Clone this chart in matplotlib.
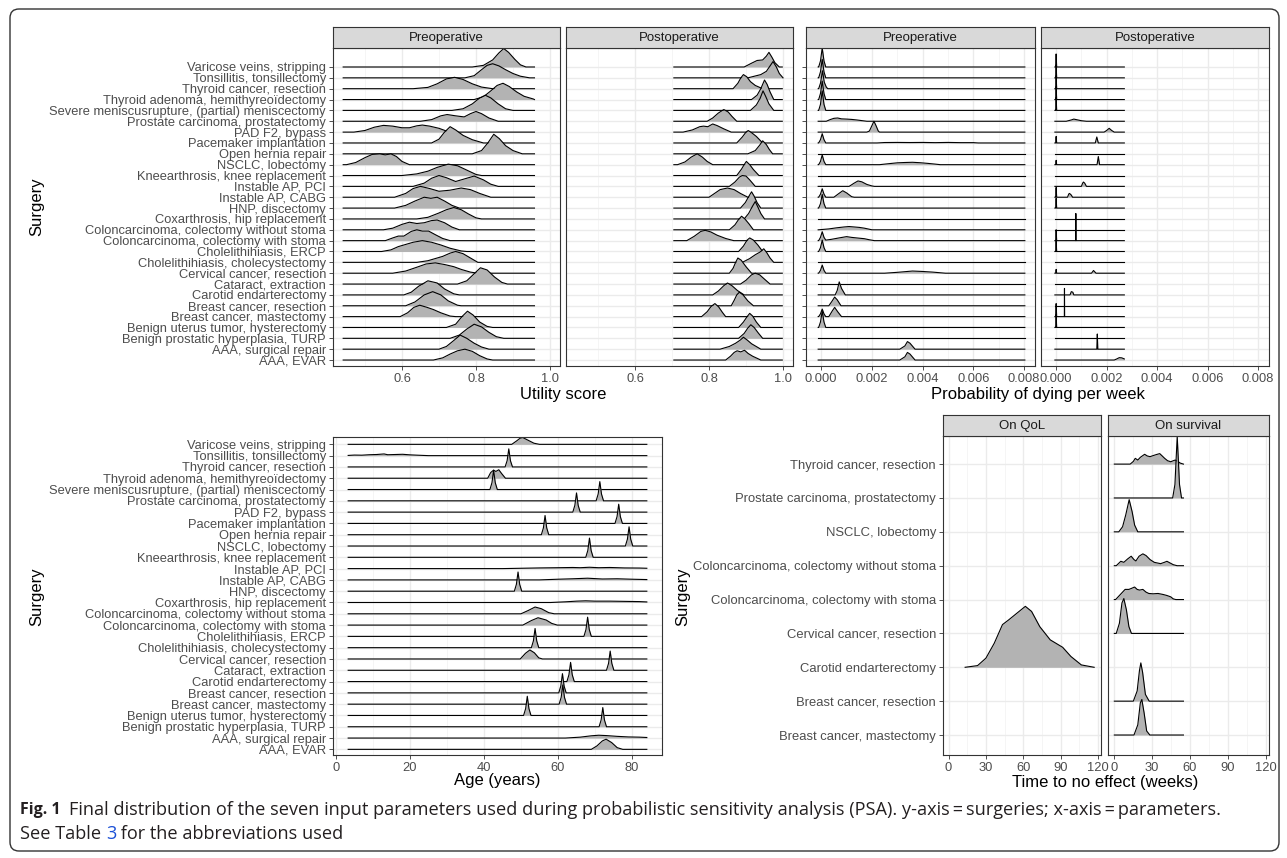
import matplotlib
matplotlib.use("Agg")
import matplotlib.pyplot as plt
from matplotlib.patches import FancyBboxPatch

W, H = 1287, 858
plt.rcParams['font.family'] = ['Liberation Sans', 'DejaVu Sans']

# surgeries, listed top to bottom as they appear
surgeries = [
    "Varicose veins, stripping", "Tonsillitis, tonsillectomy", "Thyroid cancer, resection",
    "Thyroid adenoma, hemithyreoïdectomy", "Severe meniscusrupture, (partial) meniscectomy",
    "Prostate carcinoma, prostatectomy", "PAD F2, bypass", "Pacemaker implantation",
    "Open hernia repair", "NSCLC, lobectomy", "Kneearthrosis, knee replacement",
    "Instable AP, PCI", "Instable AP, CABG", "HNP, discectomy", "Coxarthrosis, hip replacement",
    "Coloncarcinoma, colectomy without stoma", "Coloncarcinoma, colectomy with stoma",
    "Cholelithihiasis, ERCP", "Cholelithihiasis, cholecystectomy", "Cervical cancer, resection",
    "Cataract, extraction", "Carotid endarterectomy", "Breast cancer, resection",
    "Breast cancer, mastectomy", "Benign uterus tumor, hysterectomy",
    "Benign prostatic hyperplasia, TURP", "AAA, surgical repair", "AAA, EVAR",
]

# ridge outlines: (x value, height in rows)
util_pre = [
    [(0.79,0),(0.82,0.15),(0.845,0.65),(0.862,1.3),(0.875,1.7),(0.888,1.35),(0.905,0.7),(0.92,0.2),(0.935,0)],
    [(0.77,0),(0.795,0.2),(0.815,0.75),(0.83,1.15),(0.845,1.3),(0.862,1.1),(0.88,0.75),(0.9,0.4),(0.92,0.15),(0.945,0)],
    [(0.63,0),(0.67,0.12),(0.695,0.45),(0.72,0.9),(0.742,1.05),(0.765,0.85),(0.79,0.45),(0.815,0.15),(0.845,0)],
    [(0.795,0),(0.82,0.25),(0.84,0.8),(0.857,1.3),(0.873,1.5),(0.89,1.2),(0.91,0.7),(0.93,0.3),(0.955,0.05)],
    [(0.735,0),(0.765,0.15),(0.79,0.6),(0.81,1.15),(0.825,1.4),(0.84,1.15),(0.86,0.6),(0.88,0.15),(0.9,0)],
    [(0.65,0),(0.68,0.15),(0.705,0.5),(0.722,0.62),(0.745,0.5),(0.768,0.4),(0.785,0.7),(0.8,0.9),(0.815,0.7),(0.835,0.3),(0.86,0)],
    [(0.47,0),(0.5,0.15),(0.525,0.45),(0.55,0.62),(0.575,0.55),(0.6,0.4),(0.62,0.4),(0.64,0.58),(0.655,0.65),(0.675,0.55),(0.7,0.35),(0.72,0.1),(0.735,0)],
    [(0.68,0),(0.7,0.35),(0.715,1.0),(0.73,1.5),(0.745,1.2),(0.765,0.7),(0.79,0.3),(0.82,0)],
    [(0.79,0),(0.815,0.3),(0.832,1.0),(0.848,1.8),(0.863,1.4),(0.88,0.75),(0.9,0.3),(0.925,0)],
    [(0.45,0),(0.475,0.2),(0.5,0.65),(0.52,0.95),(0.54,1.0),(0.555,0.9),(0.57,1.0),(0.585,0.75),(0.6,0.3),(0.62,0)],
    [(0.6,0),(0.64,0.15),(0.67,0.4),(0.695,0.75),(0.725,1.05),(0.75,0.9),(0.775,0.5),(0.8,0.1),(0.815,0)],
    [(0.63,0),(0.66,0.3),(0.68,0.75),(0.7,1.0),(0.72,0.8),(0.745,0.45),(0.77,0.7),(0.795,0.95),(0.82,0.6),(0.84,0.2),(0.86,0)],
    [(0.58,0),(0.61,0.35),(0.63,0.8),(0.65,1.0),(0.675,0.8),(0.7,0.55),(0.73,0.65),(0.76,0.85),(0.785,0.7),(0.81,0.35),(0.84,0)],
    [(0.58,0),(0.61,0.25),(0.635,0.65),(0.66,1.0),(0.678,0.9),(0.695,1.0),(0.715,0.65),(0.735,0.25),(0.755,0)],
    [(0.64,0),(0.67,0.15),(0.7,0.55),(0.72,0.85),(0.74,1.05),(0.76,0.85),(0.78,0.45),(0.8,0.1),(0.815,0)],
    [(0.55,0),(0.575,0.15),(0.6,0.5),(0.62,0.7),(0.64,0.58),(0.66,0.65),(0.68,0.85),(0.695,0.9),(0.715,0.65),(0.735,0.25),(0.755,0)],
    [(0.555,0),(0.575,0.25),(0.59,0.42),(0.605,0.42),(0.625,0.85),(0.64,1.0),(0.655,0.88),(0.672,0.88),(0.69,0.55),(0.71,0.2),(0.73,0)],
    [(0.545,0),(0.57,0.15),(0.59,0.45),(0.61,0.65),(0.63,0.85),(0.655,1.0),(0.68,0.85),(0.705,0.6),(0.73,0.3),(0.76,0.05),(0.775,0)],
    [(0.64,0),(0.67,0.15),(0.69,0.35),(0.71,0.55),(0.73,0.85),(0.745,1.0),(0.765,0.8),(0.785,0.4),(0.805,0)],
    [(0.575,0),(0.61,0.2),(0.64,0.55),(0.665,0.85),(0.69,0.95),(0.715,0.8),(0.74,0.6),(0.76,0.35),(0.785,0.1),(0.805,0)],
    [(0.75,0),(0.775,0.3),(0.795,0.95),(0.812,1.5),(0.83,1.3),(0.85,0.65),(0.87,0.15),(0.885,0)],
    [(0.605,0),(0.625,0.25),(0.645,0.8),(0.67,1.3),(0.695,1.1),(0.715,0.55),(0.74,0.1),(0.755,0)],
    [(0.61,0),(0.635,0.35),(0.66,1.0),(0.683,1.3),(0.705,1.0),(0.725,0.45),(0.75,0.05),(0.76,0)],
    [(0.595,0),(0.615,0.35),(0.632,0.85),(0.648,1.05),(0.668,0.85),(0.685,0.65),(0.705,0.35),(0.73,0.05),(0.745,0)],
    [(0.72,0),(0.745,0.3),(0.762,1.0),(0.777,1.5),(0.792,1.15),(0.81,0.5),(0.83,0.1),(0.845,0)],
    [(0.73,0),(0.755,0.3),(0.775,0.85),(0.795,1.3),(0.815,1.05),(0.835,0.55),(0.855,0.15),(0.875,0)],
    [(0.7,0),(0.72,0.25),(0.74,0.8),(0.757,1.3),(0.775,1.0),(0.795,0.55),(0.815,0.2),(0.835,0)],
    [(0.685,0),(0.71,0.2),(0.73,0.55),(0.75,0.85),(0.77,1.0),(0.79,0.8),(0.81,0.4),(0.83,0.1),(0.845,0)],
]

util_post = [
    [(0.895,0),(0.915,0.35),(0.93,0.6),(0.945,0.65),(0.955,1.0),(0.962,1.35),(0.97,0.9),(0.978,0.4),(0.99,0)],
    [(0.905,0),(0.94,0.3),(0.955,0.6),(0.965,1.1),(0.973,1.5),(0.982,1.0),(0.99,0.4),(1.0,0)],
    [(0.865,0),(0.878,0.5),(0.886,1.0),(0.893,1.3),(0.902,1.1),(0.912,0.65),(0.925,0.3),(0.945,0)],
    [(0.915,0),(0.93,0.4),(0.94,1.0),(0.95,1.8),(0.957,1.4),(0.965,0.7),(0.975,0)],
    [(0.912,0),(0.928,0.5),(0.938,1.1),(0.946,1.8),(0.953,1.3),(0.962,0.6),(0.975,0)],
    [(0.795,0),(0.81,0.3),(0.825,0.75),(0.84,1.08),(0.852,0.85),(0.862,0.45),(0.875,0)],
    [(0.73,0),(0.755,0.2),(0.775,0.5),(0.785,0.55),(0.797,0.5),(0.81,0.75),(0.822,0.6),(0.84,0.3),(0.86,0)],
    [(0.875,0),(0.89,0.55),(0.9,1.0),(0.906,1.15),(0.915,0.95),(0.928,0.6),(0.945,0)],
    [(0.905,0),(0.925,0.3),(0.937,0.8),(0.945,1.2),(0.955,0.85),(0.963,0.4),(0.972,0)],
    [(0.715,0),(0.735,0.25),(0.752,0.7),(0.768,1.0),(0.782,0.7),(0.795,0.3),(0.81,0)],
    [(0.875,0),(0.888,0.6),(0.895,1.0),(0.901,1.3),(0.91,1.0),(0.92,0.55),(0.935,0)],
    [(0.855,0),(0.87,0.4),(0.882,0.85),(0.89,1.0),(0.9,0.95),(0.91,0.6),(0.925,0)],
    [(0.8,0),(0.815,0.35),(0.83,0.7),(0.85,0.85),(0.868,0.7),(0.885,0.35),(0.905,0)],
    [(0.885,0),(0.898,0.5),(0.908,1.1),(0.915,1.5),(0.922,1.1),(0.93,0.5),(0.94,0)],
    [(0.895,0),(0.907,0.5),(0.918,1.2),(0.925,1.6),(0.932,1.1),(0.94,0.5),(0.95,0)],
    [(0.855,0),(0.87,0.45),(0.88,0.95),(0.888,1.25),(0.897,1.0),(0.908,0.55),(0.92,0)],
    [(0.74,0),(0.76,0.4),(0.778,0.85),(0.79,0.95),(0.805,0.8),(0.822,0.5),(0.845,0.2),(0.867,0)],
    [(0.88,0),(0.893,0.5),(0.903,1.05),(0.91,1.25),(0.92,1.05),(0.932,0.6),(0.945,0)],
    [(0.89,0),(0.91,0.35),(0.925,0.7),(0.938,0.95),(0.948,1.25),(0.956,0.9),(0.965,0.4),(0.975,0)],
    [(0.855,0),(0.865,0.45),(0.872,1.0),(0.878,1.4),(0.887,1.2),(0.9,0.6),(0.915,0)],
    [(0.885,0),(0.9,0.35),(0.915,0.85),(0.925,1.0),(0.937,0.85),(0.95,0.45),(0.965,0)],
    [(0.81,0),(0.825,0.35),(0.84,0.85),(0.85,1.1),(0.862,0.85),(0.877,0.4),(0.895,0)],
    [(0.86,0),(0.868,0.5),(0.875,1.0),(0.882,1.25),(0.892,1.0),(0.905,0.45),(0.92,0)],
    [(0.78,0),(0.795,0.45),(0.806,0.95),(0.816,1.2),(0.826,0.9),(0.836,0.4),(0.845,0)],
    [(0.88,0),(0.893,0.5),(0.903,1.0),(0.91,1.3),(0.918,1.05),(0.928,0.5),(0.94,0)],
    [(0.88,0),(0.895,0.45),(0.905,0.95),(0.913,1.25),(0.922,1.0),(0.933,0.5),(0.945,0)],
    [(0.83,0),(0.855,0.25),(0.872,0.55),(0.885,0.85),(0.893,1.1),(0.903,0.85),(0.915,0.5),(0.94,0)],
    [(0.845,0),(0.858,0.35),(0.868,0.7),(0.876,0.85),(0.886,0.75),(0.896,0.9),(0.906,0.6),(0.918,0.35),(0.94,0)],
]

prob_pre = [
    [(-0.0001,0),(-0.00003,0.55),(0.00004,1.75),(0.00011,0.55),(0.00018,0)],
    [(-0.0001,0),(-0.00003,0.55),(0.00004,1.7),(0.00011,0.55),(0.00018,0)],
    [(-0.0001,0),(-0.00003,0.5),(0.00005,1.65),(0.00012,0.6),(0.0002,0.15),(0.00026,0)],
    [(-0.0001,0),(-0.00003,0.55),(0.00004,1.7),(0.00011,0.55),(0.00018,0)],
    [(-0.0001,0),(-0.00003,0.55),(0.00004,1.8),(0.00011,0.55),(0.00018,0)],
    [(0.0002,0),(0.00035,0.15),(0.0005,0.27),(0.00065,0.3),(0.0008,0.22),(0.001,0.2),(0.0012,0.17),(0.0014,0.12),(0.0016,0.06),(0.0018,0)],
    [(0.0018,0),(0.0019,0.1),(0.002,0.6),(0.00208,1.0),(0.00216,0.6),(0.00225,0.1),(0.0023,0)],
    [(-0.0001,0),(-0.00003,0.3),(0.00004,0.85),(0.00011,0.3),(0.00018,0),(0.0022,0),(0.0025,0.04),(0.003,0.05),(0.0035,0.04),(0.004,0.05),(0.0045,0.03),(0.005,0.05),(0.0055,0.03),(0.006,0.03),(0.0062,0)],
    [],
    [(-0.0001,0),(-0.00003,0.3),(0.00004,0.9),(0.00011,0.3),(0.00018,0),(0.0023,0),(0.0027,0.1),(0.003,0.17),(0.0033,0.2),(0.0036,0.22),(0.0039,0.18),(0.0042,0.12),(0.0045,0.05),(0.0047,0)],
    [],
    [(0.0011,0),(0.0013,0.3),(0.00145,0.5),(0.0016,0.42),(0.0018,0.18),(0.002,0.04),(0.0021,0)],
    [(-0.0001,0),(-0.00003,0.28),(0.00004,0.78),(0.00011,0.28),(0.00018,0),(0.0005,0),(0.0007,0.35),(0.00085,0.6),(0.001,0.4),(0.0012,0.05),(0.0013,0)],
    [(-0.0001,0),(-0.00003,0.4),(0.00004,1.25),(0.00011,0.4),(0.00018,0)],
    [],
    [(-0.0001,0),(0.0003,0.08),(0.0006,0.18),(0.0009,0.26),(0.0011,0.3),(0.0013,0.26),(0.0015,0.22),(0.0017,0.15),(0.0019,0.05),(0.002,0)],
    [(-0.0001,0),(-0.00003,0.3),(0.00004,0.82),(0.00011,0.3),(0.00018,0.05),(0.0004,0.12),(0.0007,0.25),(0.001,0.37),(0.0012,0.3),(0.0014,0.25),(0.0017,0.18),(0.0019,0.08),(0.0021,0)],
    [(-0.0001,0),(-0.00003,0.35),(0.00004,1.05),(0.00011,0.35),(0.00018,0)],
    [],
    [(-0.0001,0),(-0.00003,0.26),(0.00004,0.75),(0.00011,0.26),(0.00018,0),(0.0025,0),(0.003,0.08),(0.0033,0.14),(0.0036,0.2),(0.004,0.16),(0.0044,0.1),(0.0049,0)],
    [],
    [(0.00055,0),(0.00063,0.4),(0.00071,1.2),(0.0008,0.6),(0.00095,0)],
    [(0.0003,0),(0.00042,0.4),(0.00053,0.8),(0.00063,0.55),(0.00078,0)],
    [(-0.0001,0),(-0.00003,0.25),(0.00004,0.7),(0.00011,0.25),(0.00018,0),(0.0003,0),(0.00043,0.5),(0.00053,0.85),(0.00065,0.45),(0.0008,0)],
    [(-0.0001,0),(-0.00003,0.5),(0.00004,1.5),(0.00011,0.5),(0.00018,0)],
    [],
    [(0.0031,0),(0.0033,0.3),(0.0034,0.7),(0.0035,0.55),(0.0037,0)],
    [(0.0031,0),(0.0033,0.3),(0.0034,0.7),(0.0035,0.55),(0.0037,0)],
]

prob_post = [
    [(-0.00002,0),(0.0,1.2),(0.00002,0)],
    [(-0.00002,0),(0.0,1.2),(0.00002,0)],
    [(-0.00002,0),(0.0,1.2),(0.00002,0)],
    [(-0.00002,0),(0.0,1.2),(0.00002,0)],
    [(-0.00002,0),(0.0,1.2),(0.00002,0)],
    [(0.0004,0),(0.0006,0.12),(0.0007,0.2),(0.0008,0.15),(0.001,0.05),(0.0012,0)],
    [(0.0019,0),(0.002,0.15),(0.0021,0.35),(0.0022,0.15),(0.0023,0)],
    [(-0.00002,0),(0.0,0.6),(0.00002,0),(0.00155,0),(0.00161,0.55),(0.00167,0)],
    [],
    [(-0.00002,0),(0.0,0.4),(0.00002,0),(0.00162,0),(0.00167,0.75),(0.00172,0)],
    [],
    [(0.001,0),(0.00105,0.3),(0.00108,0.4),(0.00113,0.3),(0.0012,0)],
    [(-0.00002,0),(0.0,0.9),(0.00002,0),(0.00045,0),(0.0005,0.3),(0.00053,0.35),(0.0006,0.2),(0.00065,0)],
    [(-0.00002,0),(0.0,0.9),(0.00002,0)],
    [],
    [],
    [(-0.00002,0),(0.0,1.0),(0.00002,0),(0.000775,0),(0.00078,2.5),(0.000785,0)],
    [(-0.00002,0),(0.0,1.0),(0.00002,0)],
    [],
    [(-0.00002,0),(0.0,0.35),(0.00002,0),(0.0014,0),(0.00148,0.25),(0.00158,0)],
    [],
    [(0.00055,0),(0.0006,0.3),(0.00066,0.25),(0.0007,0)],
    [],
    [(-0.00002,0),(0.0,1.2),(0.00002,0),(0.000325,0),(0.00033,2.6),(0.000335,0)],
    [(-0.00002,0),(0.0,1.2),(0.00002,0)],
    [],
    [(0.00161,0),(0.00163,1.4),(0.00165,0)],
    [(0.0023,0),(0.0024,0.1),(0.0025,0.22),(0.0026,0.2),(0.0027,0.1)],
]

age = [
    [(47.5,0),(48.8,0.3),(49.8,0.55),(50.5,0.6),(52,0.35),(53.5,0.1),(55,0)],
    [(3.3,0.02),(5,0.05),(7,0.04),(9,0.08),(11,0.1),(13,0.15),(14,0.08),(16,0.1),(18,0.12),(20,0.07),(22,0.04),(25,0)],
    [(45.7,0),(46.25,0.55),(46.7,1.6),(47.15,0.55),(47.7,0)],
    [(41,0),(41.8,0.5),(42.6,0.72),(43.2,0.6),(44,0.75),(44.8,0.4),(45.8,0)],
    [(41.6,0),(42.15,0.6),(42.6,1.7),(43.05,0.6),(43.6,0)],
    [(70.3,0),(70.85,0.6),(71.3,1.7),(71.75,0.6),(72.3,0)],
    [(64.0,0),(64.55,0.6),(65.0,1.7),(65.45,0.6),(66.0,0)],
    [(75.4,0),(75.95,0.6),(76.4,1.7),(76.85,0.6),(77.4,0)],
    [(55.5,0),(56.05,0.6),(56.5,1.7),(56.95,0.6),(57.5,0)],
    [(78.2,0),(78.75,0.6),(79.2,1.7),(79.65,0.6),(80.2,0)],
    [(67.5,0),(68.05,0.6),(68.5,1.7),(68.95,0.6),(69.5,0)],
    [(45,0),(50,0.03),(55,0.06),(60,0.08),(64,0.1),(66,0.08),(68.5,0.12),(71,0.08),(74,0.1),(78,0.06),(82,0.05),(84,0.03)],
    [(55,0),(60,0.06),(64,0.1),(68,0.15),(72,0.08),(76,0.1),(80,0.06),(84,0.03)],
    [(48.2,0),(48.75,0.6),(49.2,1.7),(49.65,0.6),(50.2,0)],
    [(58,0),(62,0.06),(65,0.12),(67.5,0.15),(70,0.12),(74,0.12),(78,0.1),(82,0.08),(84,0.05)],
    [(50,0),(52,0.3),(53.8,0.6),(55.5,0.45),(57.5,0.1),(59,0)],
    [(50.5,0),(52.8,0.4),(54.6,0.65),(56.8,0.45),(58.3,0.15),(59.8,0)],
    [(67.0,0),(67.55,0.6),(68.0,1.7),(68.45,0.6),(69.0,0)],
    [(52.8,0),(53.35,0.6),(53.8,1.7),(54.25,0.6),(54.8,0)],
    [(49.8,0),(51.2,0.5),(52.4,0.8),(53.6,0.55),(54.8,0.1),(55.8,0)],
    [(73.1,0),(73.65,0.6),(74.1,1.7),(74.55,0.6),(75.1,0)],
    [(62.4,0),(62.95,0.6),(63.4,1.7),(63.85,0.6),(64.4,0)],
    [(60.2,0),(60.75,0.6),(61.2,1.7),(61.65,0.6),(62.2,0)],
    [(60.3,0),(60.85,0.6),(61.3,1.7),(61.75,0.6),(62.3,0)],
    [(50.7,0),(51.25,0.6),(51.7,1.7),(52.15,0.6),(52.7,0)],
    [(71.1,0),(71.65,0.6),(72.1,1.7),(72.55,0.6),(73.1,0)],
    [(62,0),(66,0.08),(69,0.2),(71,0.25),(73,0.22),(76,0.15),(79,0.1),(82,0.08),(84,0.05)],
    [(69,0),(70.5,0.3),(72,0.75),(73,0.9),(74.5,0.6),(76,0.15),(77.5,0)],
]

# time to no effect, top to bottom
tte_surgeries = [
    "Thyroid cancer, resection", "Prostate carcinoma, prostatectomy", "NSCLC, lobectomy",
    "Coloncarcinoma, colectomy without stoma", "Coloncarcinoma, colectomy with stoma",
    "Cervical cancer, resection", "Carotid endarterectomy", "Breast cancer, resection",
    "Breast cancer, mastectomy",
]
tte_qol = [None, None, None, None, None, None,
           [(13.3,0),(23.3,0.05),(30,0.27),(36.7,0.71),(43.3,1.26),(48.3,1.4),(55,1.6),(61.7,1.8),
            (66.7,1.65),(73.3,1.2),(81.7,0.81),(91.7,0.59),(98.3,0.32),(106.7,0.07),(117,0)],
           None, None]
tte_surv = [
    [(13,0),(15.5,0.08),(17,0.17),(19,0.12),(21,0.2),(24.4,0.29),(26.5,0.24),(28.7,0.22),(31,0.25),(33.5,0.28),
     (36.3,0.31),(38,0.25),(40.2,0.17),(42.5,0.1),(45,0.07),(47,0.1),(48.5,0.12),(50.5,0.08),(52.5,0.03),(55,0)],
    [(46.5,0),(48.3,0.4),(49.3,1.2),(50.1,1.82),(50.9,1.2),(51.9,0.4),(53.5,0)],
    [(4,0),(7,0.15),(9.5,0.5),(12.2,0.95),(14.5,0.6),(16.5,0.2),(19,0)],
    [(2,0),(5.6,0.13),(8,0.1),(11,0.2),(13.8,0.28),(16,0.18),(17.5,0.14),(20,0.28),(23,0.35),(25.5,0.3),
     (28.7,0.18),(32,0.1),(37,0.06),(40,0.1),(42,0.13),(44.5,0.08),(47,0.03),(50,0)],
    [(1.5,0),(4,0.1),(6.5,0.2),(9,0.3),(12,0.3),(14,0.33),(16.5,0.37),(18.5,0.3),(20.4,0.28),(23,0.3),
     (25.5,0.22),(27.7,0.18),(31,0.17),(35,0.18),(39,0.15),(42,0.12),(45,0.08),(47,0.02),(49,0)],
    [(2,0),(4.5,0.3),(6.5,0.9),(8,1.03),(10,0.7),(12,0.2),(14,0)],
    None,
    [(15.5,0),(18.5,0.3),(20.3,0.9),(21.4,1.13),(22.8,0.85),(25,0.2),(28,0)],
    [(16,0),(19,0.3),(21,0.95),(22.2,1.05),(24,0.65),(26,0.12),(28.5,0)],
]

FILL = '#B3B3B3'
EDGE = '#333333'

fig = plt.figure(figsize=(W / 100, H / 100), dpi=100)


def box(l, t, r, b):
    return [l / W, 1 - b / H, (r - l) / W, (b - t) / H]


def ridges(ax, curves, lo, hi):
    n = len(curves)
    for i, pts in enumerate(curves):
        if pts is None:
            continue
        y0 = n - 1 - i
        xs = [p[0] for p in pts]
        hs = [p[1] for p in pts]
        if not xs or xs[0] > lo:
            xs = [lo] + xs
            hs = [0] + hs
        if xs[-1] < hi:
            xs = xs + [hi]
            hs = hs + [0]
        top = [y0 + h for h in hs]
        ax.fill_between(xs, y0, top, color=FILL, lw=0, zorder=3 + i)
        ax.plot(xs, top, color='black', lw=0.8, zorder=3.5 + i, solid_joinstyle='round')


def style(ax, xlim, ylim, major, labels, minor, n):
    ax.set_xlim(*xlim)
    ax.set_ylim(*ylim)
    ax.set_xticks(major)
    ax.set_xticklabels(labels)
    ax.set_xticks(minor, minor=True)
    ax.set_yticks(range(n))
    ax.grid(which='major', color='#EBEBEB', lw=1.0)
    ax.grid(which='minor', axis='x', color='#F4F4F4', lw=0.6)
    ax.set_axisbelow(True)
    for s in ax.spines.values():
        s.set_color(EDGE)
        s.set_linewidth(0.8)
        s.set_zorder(100)
    ax.tick_params(which='minor', length=0)
    ax.tick_params(which='major', length=3, width=0.6, color=EDGE,
                   labelsize=9.3, labelcolor='#4D4D4D', pad=2)


def strip(l, t, r, b, label):
    sa = fig.add_axes(box(l, t, r, b))
    sa.set_facecolor('#D9D9D9')
    sa.set_xticks([])
    sa.set_yticks([])
    for s in sa.spines.values():
        s.set_color(EDGE)
        s.set_linewidth(0.8)
    sa.text(0.5, 0.47, label, ha='center', va='center', fontsize=9.5,
            color='#1A1A1A', transform=sa.transAxes)


n = len(surgeries)
top_ylim = (-0.55, 28.75)
util_ticks = [0.6, 0.8, 1.0]
util_lab = ['0.6', '0.8', '1.0']
prob_ticks = [0.0, 0.002, 0.004, 0.006, 0.008]
prob_lab = ['0.000', '0.002', '0.004', '0.006', '0.008']

# top row
panels = [
    ((333, 48, 560, 366), 'Preoperative', util_pre, (0.441, 0.958), (0.4135, 1.027), util_ticks, util_lab, [0.5, 0.7, 0.9]),
    ((566, 48, 793, 366), 'Postoperative', util_post, (0.705, 0.998), (0.4135, 1.027), util_ticks, util_lab, [0.5, 0.7, 0.9]),
    ((806, 48, 1035, 366), 'Preoperative', prob_pre, (-0.00012, 0.00803), (-0.0006, 0.00843), prob_ticks, prob_lab, [0.001, 0.003, 0.005, 0.007]),
    ((1041, 48, 1269, 366), 'Postoperative', prob_post, (-0.00005, 0.0027), (-0.0006, 0.00843), prob_ticks, prob_lab, [0.001, 0.003, 0.005, 0.007]),
]
for k, (bx, title, data, rng, xl, mj, lb, mn) in enumerate(panels):
    ax = fig.add_axes(box(*bx))
    style(ax, xl, top_ylim, mj, lb, mn, n)
    ridges(ax, data, *rng)
    if k == 0:
        ax.set_yticklabels(surgeries[::-1], fontsize=9.3)
    elif k == 2:
        ax.set_yticklabels([])
    else:
        ax.tick_params(axis='y', left=False, labelleft=False)
    strip(bx[0], 27, bx[2], 48, title)

fig.text(563 / W, 1 - 394 / H, 'Utility score', ha='center', va='center', fontsize=12)
fig.text(1038 / W, 1 - 394 / H, 'Probability of dying per week', ha='center', va='center', fontsize=12)
fig.text(37 / W, 1 - 207 / H, 'Surgery', rotation=90, ha='center', va='center', fontsize=12)

# age panel
ax = fig.add_axes(box(333, 437, 662, 755))
style(ax, (-0.8, 88.1), (-0.5, 27.65), [0, 20, 40, 60, 80], ['0', '20', '40', '60', '80'], [10, 30, 50, 70], n)
ridges(ax, age, 3.3, 84.0)
ax.set_yticklabels(surgeries[::-1], fontsize=9.3)
fig.text(497 / W, 1 - 781 / H, 'Age (years)', ha='center', va='center', fontsize=12)
fig.text(37 / W, 1 - 597 / H, 'Surgery', rotation=90, ha='center', va='center', fontsize=12)

# time to no effect panels
m = len(tte_surgeries)
wk_ticks = [0, 30, 60, 90, 120]
wk_lab = ['0', '30', '60', '90', '120']
for k, (bx, title, data, rng) in enumerate([
        ((943, 436, 1101, 755), 'On QoL', tte_qol, (13.3, 117)),
        ((1108, 436, 1269, 755), 'On survival', tte_surv, (0.5, 55))]):
    ax = fig.add_axes(box(*bx))
    style(ax, (-4.5, 122.5), (-0.59, 8.83), wk_ticks, wk_lab, [15, 45, 75, 105], m)
    ridges(ax, data, *rng)
    if k == 0:
        ax.set_yticklabels(tte_surgeries[::-1], fontsize=9.4)
    else:
        ax.tick_params(axis='y', left=False, labelleft=False)
    strip(bx[0], 415, bx[2], 436, title)
fig.text(1105 / W, 1 - 782 / H, 'Time to no effect (weeks)', ha='center', va='center', fontsize=12)
fig.text(683 / W, 1 - 597 / H, 'Surgery', rotation=90, ha='center', va='center', fontsize=12)

# outer frame and caption
frame = FancyBboxPatch((10, H - 851), 1269, 842, boxstyle='round,pad=0,rounding_size=9',
                       transform=None, fill=False, ec='#333333', lw=1.0)
fig.patches.append(frame)

cap = ['Open Sans', 'DejaVu Sans']
r = fig.canvas.get_renderer()
t1 = fig.text(20 / W, 1 - 810 / H, 'Fig. 1', fontweight='bold', fontsize=11.5, family=cap,
              va='center', color='#231F20')
x1 = t1.get_window_extent(r).x1 + 8
t2 = fig.text(x1 / W, 1 - 810 / H,
              'Final distribution of the seven input parameters used during probabilistic sensitivity '
              'analysis (PSA). y-axis\u2009=\u2009surgeries; x-axis\u2009=\u2009parameters.',
              fontsize=11, family=cap, va='center', color='#231F20')
fs = 11 * (1222 - x1) / t2.get_window_extent(r).width
t2.set_fontsize(fs)
s1 = fig.text(20 / W, 1 - 834 / H, 'See Table ', fontsize=fs, family=cap, va='center', color='#231F20')
xa = s1.get_window_extent(r).x1
s2 = fig.text(xa / W, 1 - 834 / H, '3', fontsize=fs, family=cap, va='center', color='#1A4FD6')
xb = s2.get_window_extent(r).x1
fig.text(xb / W, 1 - 834 / H, ' for the abbreviations used', fontsize=fs, family=cap, va='center', color='#231F20')

fig.savefig('out.png', dpi=100)
